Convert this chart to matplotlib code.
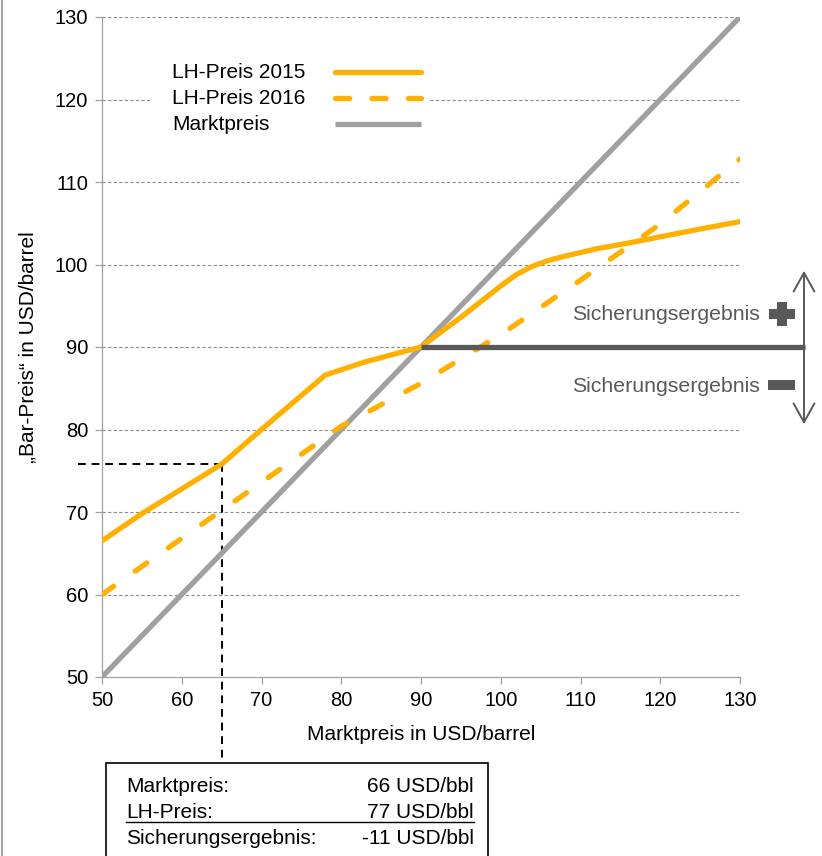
import matplotlib
matplotlib.use('Agg')
import matplotlib.pyplot as plt
from matplotlib.lines import Line2D
from matplotlib.patches import Rectangle, FancyArrowPatch

plt.rcParams['font.family'] = ['Liberation Sans', 'DejaVu Sans']

# data
markt_x = [50, 130]
markt_y = [50, 130]
lh2015_x = [50, 55, 60, 65, 70, 78, 83, 90, 95, 100, 102, 104, 106, 108, 112, 116, 125, 130]
lh2015_y = [66.5, 69.8, 72.8, 75.8, 80.0, 86.6, 88.2, 90.0, 93.6, 97.4, 98.8, 99.8, 100.5, 101.0, 101.9, 102.6, 104.3, 105.2]
lh2016_x = [50, 65, 80, 90, 100, 110, 120, 130]
lh2016_y = [60.0, 70.2, 80.4, 85.6, 91.5, 98.1, 104.9, 112.8]
bsp_markt = 65
bsp_lh = 75.8
sicherung_level = 90
series_labels = ['LH-Preis 2015', 'LH-Preis 2016', 'Marktpreis']
box_labels = ['Marktpreis:', 'LH-Preis:', 'Sicherungsergebnis:']
box_values = ['66 USD/bbl', '77 USD/bbl', '-11 USD/bbl']
ticks = [50, 60, 70, 80, 90, 100, 110, 120, 130]

ORANGE = '#FFB000'
GREY = '#A0A0A0'
DARK = '#595959'

W, H = 822, 856


def px(x, y):
    return x / W, 1 - y / H


fig = plt.figure(figsize=(W / 100, H / 100), dpi=100)
ax = fig.add_axes([102 / W, 1 - 677 / H, 638 / W, 660 / H])

ax.set_xlim(50, 130)
ax.set_ylim(50, 130)
ax.set_xticks(ticks)
ax.set_yticks(ticks)
for t in ticks[1:]:
    ax.axhline(t, color='#8C8C8C', lw=0.8, ls=(0, (3, 2)), zorder=1)

for s in ['top', 'right']:
    ax.spines[s].set_visible(False)
for s in ['left', 'bottom']:
    ax.spines[s].set_color(GREY)
    ax.spines[s].set_linewidth(0.9)
ax.tick_params(direction='out', length=5, width=0.9, color=GREY, labelsize=14.5, pad=5)

# helper lines for the example
ax.plot([47, bsp_markt], [bsp_lh, bsp_lh], color='black', lw=1.4, ls=(0, (4, 3)), clip_on=False, zorder=3)
ax.plot([bsp_markt, bsp_markt], [bsp_lh, 39.6], color='black', lw=1.4, ls=(0, (4, 3)), clip_on=False, zorder=3)

styles = [
    dict(color=ORANGE, lw=3.8, solid_capstyle='round', solid_joinstyle='round'),
    dict(color=ORANGE, lw=3.8, ls=(0, (2.7, 5.0)), dash_capstyle='round'),
    dict(color=GREY, lw=3.8, solid_capstyle='butt'),
]

ax.plot(markt_x, markt_y, zorder=4, **styles[2])
ax.plot(lh2016_x, lh2016_y, zorder=5, **styles[1])
ax.plot(lh2015_x, lh2015_y, zorder=6, **styles[0])

# hedge result line
ax.plot([sicherung_level, 138.2], [sicherung_level, sicherung_level], color=DARK, lw=3.8,
        solid_capstyle='butt', clip_on=False, zorder=7)

# legend (labels left aligned, sample lines on the right)
x0, y0 = px(150, 141)
fig.add_artist(Rectangle((x0, y0), 280 / W, 86 / H, transform=fig.transFigure,
                         facecolor='white', edgecolor='none', zorder=2))
for i, (lab, st) in enumerate(zip(series_labels, styles)):
    yy = 72 + i * 26
    fig.text(*px(172, yy), lab, fontsize=15, ha='left', va='center', zorder=3)
    st = dict(st)
    if i == 1:
        st['ls'] = (0, (2.7, 4.2))
    fig.add_artist(Line2D([335 / W, 421 / W], [1 - yy / H, 1 - yy / H], transform=fig.transFigure,
                          zorder=3, **st))

ax.set_xlabel('Marktpreis in USD/barrel', fontsize=15, labelpad=11)
ax.set_ylabel('\u201eBar-Preis\u201c in USD/barrel', fontsize=15, labelpad=12)

# double arrow and annotations on the right
arr = FancyArrowPatch(px(804, 268), px(804, 427), transform=fig.transFigure,
                      arrowstyle='<->,head_length=9,head_width=5', color=DARK, lw=1.4, mutation_scale=1.5)
fig.add_artist(arr)
fig.text(*px(760, 314), 'Sicherungsergebnis', fontsize=15.3, color=DARK, ha='right', va='center')
fig.text(*px(760, 386), 'Sicherungsergebnis', fontsize=15.3, color=DARK, ha='right', va='center')
# plus sign
x0, y0 = px(769, 319)
fig.add_artist(Rectangle((x0, y0), 26 / W, 10 / H, transform=fig.transFigure, color=DARK, lw=0))
x0, y0 = px(777, 326)
fig.add_artist(Rectangle((x0, y0), 10 / W, 24 / H, transform=fig.transFigure, color=DARK, lw=0))
# minus sign
x0, y0 = px(768, 390)
fig.add_artist(Rectangle((x0, y0), 27 / W, 10 / H, transform=fig.transFigure, color=DARK, lw=0))

# result box
x0, y0 = px(106, 870)
fig.add_artist(Rectangle((x0, y0), 382 / W, 107 / H, transform=fig.transFigure,
                         facecolor='white', edgecolor='black', lw=1.2, clip_on=False))
for i, (lab, val) in enumerate(zip(box_labels, box_values)):
    yy = 786 + i * 26
    fig.text(*px(126, yy), lab, fontsize=15, ha='left', va='center')
    fig.text(*px(474, yy), val, fontsize=15, ha='right', va='center')
fig.add_artist(Line2D([126 / W, 474 / W], [1 - 822 / H, 1 - 822 / H], transform=fig.transFigure,
                      color='black', lw=1.0))

# left frame line
fig.add_artist(Line2D([1.5 / W, 1.5 / W], [0, 1], transform=fig.transFigure, color='#A6A6A6', lw=1.5))

fig.savefig('out.png', dpi=100)
